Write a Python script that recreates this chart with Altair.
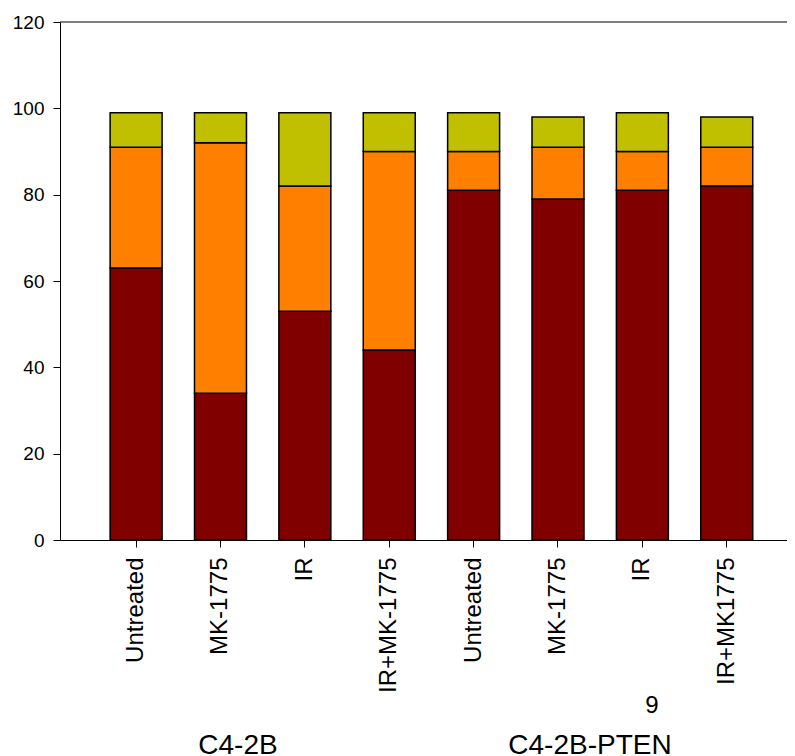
import altair as alt
import pandas as pd

groups = ["C4-2B"] * 4 + ["C4-2B-PTEN"] * 4
treatments = ["Untreated", "MK-1775", "IR", "IR+MK-1775",
              "Untreated", "MK-1775", "IR", "IR+MK1775"]
# segment sizes (bottom -> top)
seg_dark = [63, 34, 53, 44, 81, 79, 81, 82]
seg_orange = [28, 58, 29, 46, 9, 12, 9, 9]
seg_yellow = [8, 7, 17, 9, 9, 7, 9, 7]
series = ["s1", "s2", "s3"]
colors = ["#800000", "#FF8000", "#C0C000"]
y_ticks = [0, 20, 40, 60, 80, 100, 120]
group_labels = ["C4-2B", "C4-2B-PTEN"]
note = "9"

rows = []
keys = []
for i, (g, t) in enumerate(zip(groups, treatments)):
    key = f"{i}|{t}"
    keys.append(key)
    for s, vals, o in zip(series, [seg_dark, seg_orange, seg_yellow], [0, 1, 2]):
        rows.append({"key": key, "series": s, "value": vals[i], "ord": o})
df = pd.DataFrame(rows)

FONT = "Liberation Sans"
W, H = 727, 518

x_enc = alt.X(
    "key:N",
    sort=keys,
    scale=alt.Scale(paddingInner=0.384, paddingOuter=0.5, align=0.594),
    axis=alt.Axis(
        title=None,
        labelAngle=-90,
        labelExpr="split(datum.label, '|')[1]",
        labelFontSize=24,
        labelFont=FONT,
        labelColor="black",
        labelPadding=10,
        tickSize=7,
        tickColor="black",
        domainColor="black",
        grid=False,
    ),
)

bars = alt.Chart(df).mark_bar(stroke="black", strokeWidth=1.5).encode(
    x=x_enc,
    y=alt.Y(
        "value:Q",
        stack="zero",
        scale=alt.Scale(domain=[0, 120], nice=False),
        axis=alt.Axis(
            title=None,
            values=y_ticks,
            labelFontSize=19,
            labelFont=FONT,
            labelColor="black",
            labelPadding=9,
            tickSize=7,
            tickColor="black",
            domainColor="black",
            grid=False,
        ),
    ),
    color=alt.Color("series:N", scale=alt.Scale(domain=series, range=colors), legend=None),
    order=alt.Order("ord:Q", sort="ascending"),
)

top_line = alt.Chart(pd.DataFrame({"v": [120]})).mark_rule(color="black", strokeWidth=1).encode(
    y=alt.Y("v:Q")
)

g1 = alt.Chart(pd.DataFrame({"t": [group_labels[0]]})).mark_text(
    font=FONT, fontSize=28, align="center", baseline="alphabetic", color="black"
).encode(text="t:N", x=alt.value(178), y=alt.value(732))
g2 = alt.Chart(pd.DataFrame({"t": [group_labels[1]]})).mark_text(
    font=FONT, fontSize=28, align="center", baseline="alphabetic", color="black"
).encode(text="t:N", x=alt.value(530), y=alt.value(732))
g3 = alt.Chart(pd.DataFrame({"t": [note]})).mark_text(
    font=FONT, fontSize=24, align="center", baseline="alphabetic", color="black"
).encode(text="t:N", x=alt.value(592), y=alt.value(691))

chart = alt.layer(bars, top_line, g1, g2, g3).properties(
    width=W,
    height=H,
    autosize=alt.AutoSizeParams(type="none"),
    padding={"left": 52, "top": 14, "right": 0, "bottom": 220},
).configure_view(stroke=None)

chart.save("out.html", embed_options={"renderer": "svg", "actions": False})
